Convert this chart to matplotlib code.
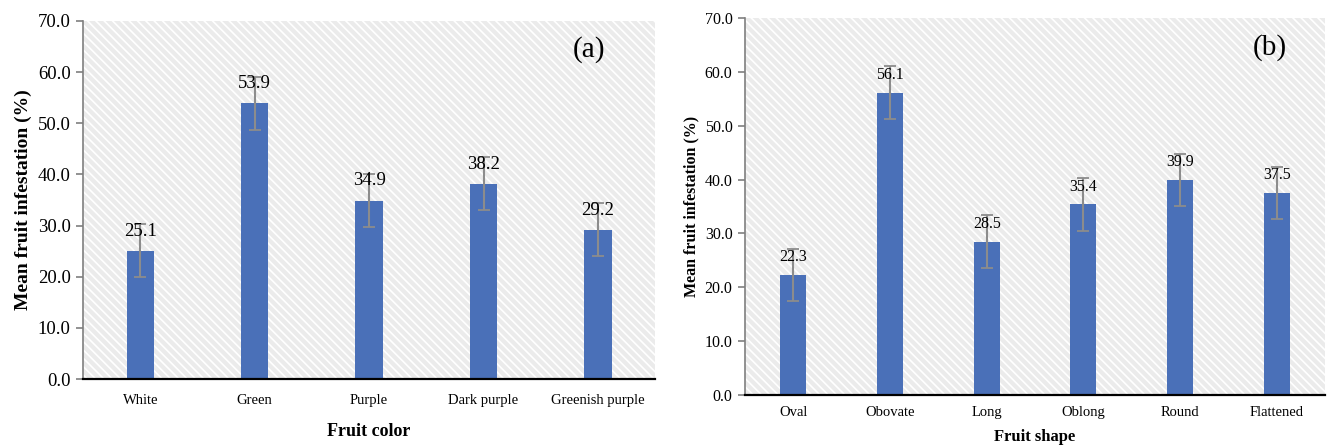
import matplotlib
matplotlib.use("Agg")
import matplotlib.pyplot as plt
from matplotlib.patches import Rectangle
import numpy as np

plt.rcParams["font.family"] = ["Liberation Serif", "DejaVu Serif"]
plt.rcParams["hatch.linewidth"] = 1.2
plt.rcParams["hatch.color"] = "white"

color_names = ["White", "Green", "Purple", "Dark purple", "Greenish purple"]
color_means = [25.1, 53.9, 34.9, 38.2, 29.2]
color_err = [5.2, 5.2, 5.2, 5.2, 5.2]

shape_names = ["Oval", "Obovate", "Long", "Oblong", "Round", "Flattened"]
shape_means = [22.3, 56.1, 28.5, 35.4, 39.9, 37.5]
shape_err = [4.9, 4.9, 4.9, 4.9, 4.9, 4.9]

yticks = [0, 10, 20, 30, 40, 50, 60, 70]

BAR = "#4a70b8"
ERR = "#8c8c8c"


def panel(ax, names, means, err, width, fs_tick, fs_val, fs_ylab, fs_xlab, fs_cat,
          xlabel, tag, tag_x, cat_pad, xlabelpad, val_off):
    x = np.arange(len(names))
    ax.set_facecolor("#ebebeb")
    ax.add_patch(Rectangle((0, 0), 1, 1, transform=ax.transAxes, facecolor="none",
                           hatch="\\\\\\\\", linewidth=0, zorder=0))
    ax.bar(x, means, width=width, color=BAR, zorder=2)
    ax.errorbar(x, means, yerr=err, fmt="none", ecolor=ERR, elinewidth=1.5,
                capsize=4, capthick=1.3, zorder=3)
    for xi, m in zip(x, means):
        ax.annotate(f"{m:.1f}", (xi, m), xytext=(0, val_off), textcoords="offset points",
                    ha="center", va="bottom", fontsize=fs_val, zorder=4)
    ax.set_xlim(-0.5, len(names) - 0.5)
    ax.set_ylim(0, 70)
    ax.set_yticks(yticks)
    ax.set_yticklabels([f"{v:.1f}" for v in yticks], fontsize=fs_tick)
    ax.set_xticks(x)
    ax.set_xticklabels(names, fontsize=fs_cat)
    ax.tick_params(axis="x", length=0, pad=cat_pad)
    ax.tick_params(axis="y", length=5, color="#7f7f7f", width=1.2, pad=4)
    for s in ("top", "right"):
        ax.spines[s].set_visible(False)
    ax.spines["left"].set_color("#7f7f7f")
    ax.spines["left"].set_linewidth(1.2)
    ax.spines["bottom"].set_color("black")
    ax.spines["bottom"].set_linewidth(1.6)
    ax.set_ylabel("Mean fruit infestation (%)", fontsize=fs_ylab, fontweight="bold")
    ax.set_xlabel(xlabel, fontsize=fs_xlab, fontweight="bold", labelpad=xlabelpad)
    ax.text(tag_x, 0.92, tag, transform=ax.transAxes, ha="center", va="center", fontsize=21)


fig = plt.figure(figsize=(13.29, 4.46), dpi=100)
ax1 = fig.add_axes([0.0625, 0.150, 0.4305, 0.803])
ax2 = fig.add_axes([0.5606, 0.114, 0.4364, 0.846])

panel(ax1, color_names, color_means, color_err, 0.24, 13.5, 13.5, 14, 13, 10.5,
      "Fruit color", "(a)", 0.885, 11, 11, 8)
panel(ax2, shape_names, shape_means, shape_err, 0.27, 11.5, 11.5, 11.5, 12, 10.5,
      "Fruit shape", "(b)", 0.905, 8, 7, 7)

fig.savefig("out.png", dpi=100)
